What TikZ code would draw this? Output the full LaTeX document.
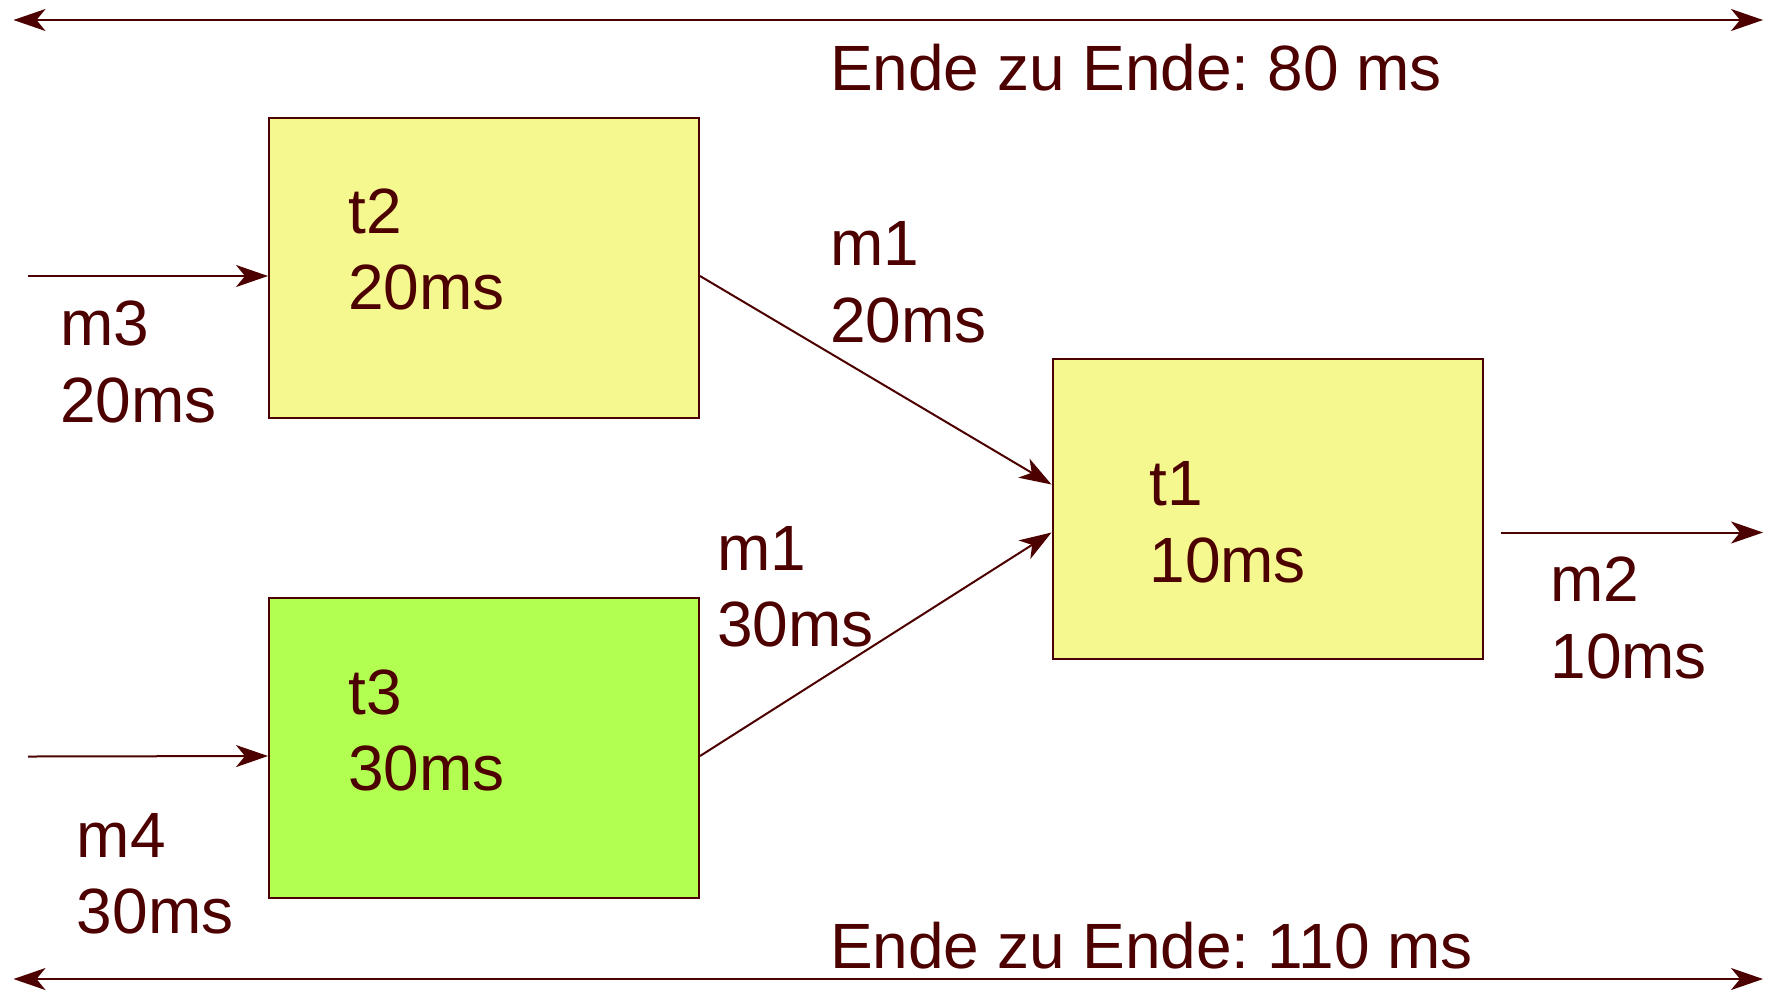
\documentclass[tikz,border=0pt]{standalone}
\usepackage{fontspec}
\setmainfont{Liberation Sans}
\usetikzlibrary{arrows.meta}
\frenchspacing

\definecolor{ink}{RGB}{77,0,0}
\definecolor{taskyellow}{RGB}{244,248,143}
\definecolor{taskgreen}{RGB}{178,255,82}

\begin{document}
\begin{tikzpicture}
  [x=0.5pt,y=-0.5pt,
   every node/.style={inner sep=0pt,text=ink},
   lbl/.style={anchor=west,align=left,font=\fontsize{32}{38.25}\selectfont},
   task/.style={draw=ink,line width=1pt,minimum width=215pt,minimum height=150pt},
   msg/.style={draw=ink,line width=1pt,-{Stealth[length=16pt,width=11pt,inset=4.5pt]}},
   span/.style={draw=ink,line width=1pt,{Stealth[length=16pt,width=11pt,inset=4.5pt]}-{Stealth[length=16pt,width=11pt,inset=4.5pt]}}]
  \useasboundingbox (0,0) rectangle (1765,992);

  % tasks
  \node[task,fill=taskyellow] (t2) at (484,268) {};
  \node[task,fill=taskgreen]  (t3) at (484,748) {};
  \node[task,fill=taskyellow] (t1) at (1267.5,508.5) {};

  \node[lbl] (t2txt) at (348,249.3) {t2\\20ms};
  \node[lbl] (t3txt) at (348,730.5) {t3\\30ms};
  \node[lbl] (t1txt) at (1149,522.3) {t1\\10ms};

  % free ends of the messages
  \coordinate (m3in) at (28,276);
  \coordinate (m4in) at (28,756.5);
  \coordinate (m2out) at (1763,532.5);
  \coordinate (m2start) at (1500.6,532.5);

  \draw[msg] (m3in) -- ([yshift=-4pt]t2.west);
  \draw[msg] (m4in) -- ([yshift=-4pt]t3.west);
  \draw[msg] ([yshift=-4pt]t2.east) -- ([yshift=12pt]t1.west);
  \draw[msg] ([yshift=-4pt]t3.east) -- ([yshift=-12pt]t1.west);
  \draw[msg] (m2start) -- (m2out);

  \node[lbl] (m3) at (59.7,362) {m3\\20ms};
  \node[lbl] (m4) at (76.5,874) {m4\\30ms};
  \node[lbl] (m1a) at (829.6,282.5) {m1\\20ms};
  \node[lbl] (m1b) at (717,587) {m1\\30ms};
  \node[lbl] (m2) at (1550,618) {m2\\10ms};

  % end to end spans
  \coordinate (topl) at (13.5,20);
  \coordinate (topr) at (1763,20);
  \coordinate (botl) at (13.5,979);
  \coordinate (botr) at (1763,979);
  \draw[span] (topl) -- (topr);
  \draw[span] (botl) -- (botr);
  \node[lbl] (e2e80) at (829.6,67.5) {Ende zu Ende: 80 ms};
  \node[lbl] (e2e110) at (829.6,945.6) {Ende zu Ende: 110 ms};
\end{tikzpicture}
\end{document}
